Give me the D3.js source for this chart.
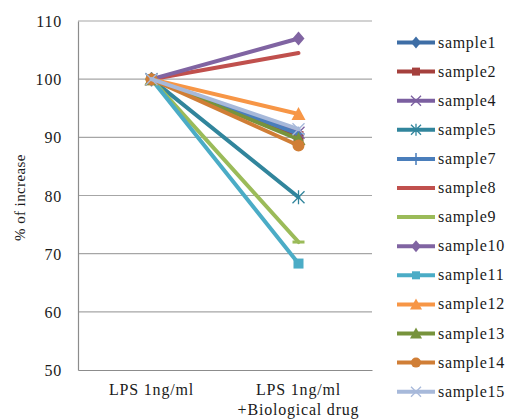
<!DOCTYPE html>
<html><head><meta charset="utf-8">
<script src="https://cdn.jsdelivr.net/npm/d3@7"></script>
<style>body{margin:0;background:#fff;}svg{display:block;}</style>
</head><body>
<svg id="chart" width="507" height="419" font-family="Liberation Serif"></svg>
<script>
const categories = ["LPS 1ng/ml", "LPS 1ng/ml|+Biological drug"];
const seriesNames = ["sample1","sample2","sample4","sample5","sample7","sample8","sample9","sample10","sample11","sample12","sample13","sample14","sample15"];
const startValues = [100,100,100,100,100,100,100,100,100,100,100,100,100];
const endValues   = [90.5, 90.2, 90.8, 79.7, 90.6, 104.5, 72, 107, 68.3, 94, 89.7, 88.6, 91.4];
const colors  = ["#3E6EA6","#A5403D","#7B5FA0","#31859C","#4A7EBB","#C0504D","#9BBB59","#8064A2","#4BACC6","#F79646","#77933C","#D07E36","#A7B9DA"];
const markers = ["diamond","square","x","asterisk","plus","none","dash","diamond","square","triangle","triangle","circle","x"];
const yTicks = [50,60,70,80,90,100,110];

const FONT = "Liberation Serif";
const TXT = "#1a1a1a";
const svg = d3.select("#chart");
const L = 78, R = 372, T = 21, B = 370;
const x = d3.scaleBand().domain(categories).range([L, R]);
const y = d3.scaleLinear().domain([50,110]).range([B, T]);

// gridlines
svg.append("g").selectAll("line").data(yTicks.filter(d=>d>50)).join("line")
  .attr("x1", L).attr("x2", R).attr("y1", d=>y(d)).attr("y2", d=>y(d))
  .attr("stroke", "#A6A6A6").attr("stroke-width", 1.2);

// axes
const yAxis = d3.axisLeft(y).tickValues(yTicks).tickSize(0).tickPadding(16);
const gy = svg.append("g").attr("transform", `translate(${L},0)`).call(yAxis);
gy.attr("font-family", FONT);
gy.select(".domain").attr("stroke", "#8C8C8C").attr("stroke-width", 1.2);
gy.selectAll("text").attr("font-size", 16).attr("letter-spacing", "0.8px").attr("fill", TXT).attr("font-family", FONT).attr("dy", "0.35em");

const xAxis = d3.axisBottom(x).tickSize(0).tickFormat(()=>"");
const gx = svg.append("g").attr("transform", `translate(0,${B})`).call(xAxis);
gx.attr("font-family", FONT);
gx.select(".domain").attr("stroke", "#8C8C8C").attr("stroke-width", 1.2);
gx.selectAll(".tick").each(function(d){
  const lines = d.split("|");
  const t = d3.select(this).append("text").attr("fill", TXT).attr("font-size", 16)
    .attr("letter-spacing", "0.8px").attr("text-anchor", "middle").attr("font-family", FONT);
  lines.forEach((s,i)=> t.append("tspan").attr("x", 0).attr("y", 25 + i*20).text(s));
});

// y title
svg.append("text").attr("transform", `translate(25,${(T+B)/2+2}) rotate(-90)`)
  .attr("text-anchor", "middle").attr("font-size", 15).attr("letter-spacing", "0.4px")
  .attr("font-family", FONT).attr("fill", TXT).text("% of increase");

function drawMarker(g, type, cx, cy, color, s) {
  const h = s/2;
  if (type === "diamond") {
    g.append("path").attr("d", `M${cx},${cy-h-1}L${cx+h},${cy}L${cx},${cy+h+1}L${cx-h},${cy}Z`).attr("fill", color);
  } else if (type === "square") {
    g.append("rect").attr("x", cx-h+1).attr("y", cy-h+1).attr("width", s-2).attr("height", s-2).attr("fill", color);
  } else if (type === "triangle") {
    g.append("path").attr("d", `M${cx},${cy-h-1}L${cx+h+1},${cy+h}L${cx-h-1},${cy+h}Z`).attr("fill", color);
  } else if (type === "circle") {
    g.append("circle").attr("cx", cx).attr("cy", cy).attr("r", h).attr("fill", color);
  } else if (type === "x") {
    g.append("path").attr("d", `M${cx-h},${cy-h}L${cx+h},${cy+h}M${cx-h},${cy+h}L${cx+h},${cy-h}`).attr("stroke", color).attr("stroke-width", 1.3);
  } else if (type === "asterisk") {
    g.append("path").attr("d", `M${cx-h},${cy-h}L${cx+h},${cy+h}M${cx-h},${cy+h}L${cx+h},${cy-h}M${cx},${cy-h-1}L${cx},${cy+h+1}`).attr("stroke", color).attr("stroke-width", 1.3);
  } else if (type === "plus") {
    g.append("path").attr("d", `M${cx},${cy-h-1}L${cx},${cy+h+1}M${cx-h},${cy}L${cx+h},${cy}`).attr("stroke", color).attr("stroke-width", 1.5);
  } else if (type === "dash") {
    g.append("path").attr("d", `M${cx-h},${cy}L${cx+h},${cy}`).attr("stroke", color).attr("stroke-width", 3);
  }
}

const cx = c => x(c) + x.bandwidth()/2;
const plot = svg.append("g");
seriesNames.forEach((name, i) => {
  const vals = [startValues[i], endValues[i]];
  const pts = categories.map((c, j) => [cx(c), y(vals[j])]);
  const g = plot.append("g");
  g.append("path").attr("d", d3.line()(pts)).attr("fill", "none")
    .attr("stroke", colors[i]).attr("stroke-width", 4).attr("stroke-linecap", "round");
  pts.forEach(p => drawMarker(g, markers[i], p[0], p[1], colors[i], 12));
});

// legend
const lg = svg.append("g");
seriesNames.forEach((name, i) => {
  const ly = 42.5 + i * 29.1;
  const g = lg.append("g");
  g.append("line").attr("x1", 397).attr("x2", 435).attr("y1", ly).attr("y2", ly)
    .attr("stroke", colors[i]).attr("stroke-width", 4);
  drawMarker(g, markers[i], 416, ly, colors[i], 10);
  g.append("text").attr("x", 438).attr("y", ly + 5).attr("font-size", 16)
    .attr("letter-spacing", "0.7px").attr("font-family", FONT)
    .attr("fill", TXT).text(name);
});
</script>
</body></html>
